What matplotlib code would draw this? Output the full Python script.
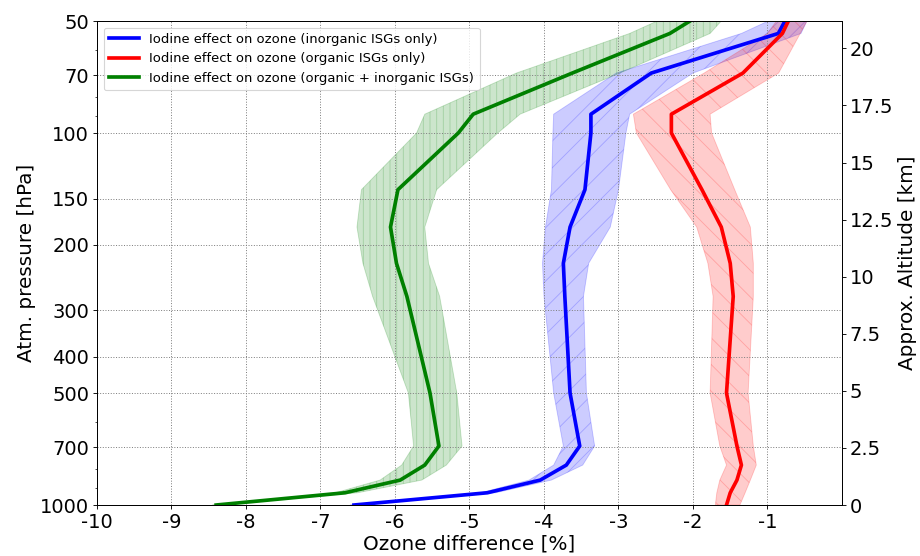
import matplotlib
matplotlib.use("Agg")
import matplotlib.pyplot as plt
from matplotlib.ticker import LogLocator, NullFormatter, FixedLocator

# Pressure levels [hPa]
pressure = [50, 54, 69, 89, 100, 142, 179, 224, 275, 500, 694, 781, 857, 927, 1000]

# Inorganic ISGs only (blue)
inorg_mean = [-0.765, -0.855, -2.56, -3.37, -3.37, -3.45, -3.65, -3.74, -3.72, -3.65, -3.52, -3.70, -4.05, -4.76, -6.55]
inorg_low  = [-0.99, -1.35, -3.03, -3.87, -3.88, -3.90, -3.98, -4.02, -4.00, -3.87, -3.74, -3.87, -4.20, -4.85, -6.60]
inorg_high = [-0.47, -0.55, -2.00, -2.85, -2.90, -3.00, -3.11, -3.40, -3.47, -3.43, -3.32, -3.48, -3.90, -4.65, -6.50]

# Organic ISGs only (red)
org_mean = [-0.72, -0.80, -1.33, -2.29, -2.29, -1.88, -1.62, -1.50, -1.46, -1.55, -1.41, -1.35, -1.41, -1.50, -1.55]
org_low  = [-0.88, -1.00, -1.85, -2.80, -2.76, -2.30, -1.95, -1.80, -1.73, -1.77, -1.64, -1.55, -1.64, -1.68, -1.70]
org_high = [-0.47, -0.56, -0.85, -1.77, -1.75, -1.44, -1.23, -1.19, -1.19, -1.26, -1.19, -1.15, -1.23, -1.30, -1.37]

# Organic + inorganic ISGs (green)
both_mean = [-2.04, -2.31, -3.62, -4.95, -5.15, -5.96, -6.06, -5.98, -5.84, -5.53, -5.41, -5.60, -5.93, -6.67, -8.40]
both_low  = [-2.48, -2.85, -4.37, -5.60, -5.71, -6.45, -6.51, -6.43, -6.30, -5.82, -5.75, -5.91, -6.20, -6.80, -8.45]
both_high = [-1.62, -1.77, -2.98, -4.32, -4.62, -5.44, -5.60, -5.55, -5.40, -5.17, -5.10, -5.31, -5.64, -6.50, -8.35]

labels = ["Iodine effect on ozone (inorganic ISGs only)",
          "Iodine effect on ozone (organic ISGs only)",
          "Iodine effect on ozone (organic + inorganic ISGs)"]

p_ticks = [50, 70, 100, 150, 200, 300, 400, 500, 700, 1000]
x_ticks = [-10, -9, -8, -7, -6, -5, -4, -3, -2, -1]
alt_ticks = [0, 2.5, 5, 7.5, 10, 12.5, 15, 17.5, 20]
alt_labels = ["0", "2.5", "5", "7.5", "10", "12.5", "15", "17.5", "20"]

plt.rcParams['hatch.linewidth'] = 0.8
fig = plt.figure(figsize=(11.5, 6.95), dpi=80)
ax = fig.add_axes([0.1054, 0.0917, 0.8098, 0.8705])

ax.fill_betweenx(pressure, inorg_low, inorg_high, facecolor='blue', edgecolor='blue',
                 alpha=0.2, hatch='/', linewidth=0.8)
ax.fill_betweenx(pressure, org_low, org_high, facecolor='red', edgecolor='red',
                 alpha=0.2, hatch='\\', linewidth=0.8)
ax.fill_betweenx(pressure, both_low, both_high, facecolor='green', edgecolor='green',
                 alpha=0.2, hatch='||', linewidth=0.8)

ax.plot(inorg_mean, pressure, color='blue', lw=3.3, label=labels[0])
ax.plot(org_mean, pressure, color='red', lw=3.3, label=labels[1])
ax.plot(both_mean, pressure, color='green', lw=3.3, label=labels[2])

ax.set_yscale('log')
ax.set_ylim(1000, 50)
ax.set_xlim(-10, 0)
ax.yaxis.set_major_locator(FixedLocator(p_ticks))
ax.set_yticklabels([str(t) for t in p_ticks])
ax.yaxis.set_minor_locator(LogLocator(base=10, subs=range(1, 10)))
ax.yaxis.set_minor_formatter(NullFormatter())
ax.set_xticks(x_ticks)
ax.set_xticklabels([str(t) for t in x_ticks])
ax.tick_params(axis='both', which='major', labelsize=17.5)
ax.grid(True, which='major', linestyle=':', color='gray', linewidth=0.9)

ax.set_xlabel("Ozone difference [%]", fontsize=18, labelpad=2)
ax.set_ylabel("Atm. pressure [hPa]", fontsize=18)

leg = ax.legend(loc='upper left', fontsize=11.8, handlelength=2.3)

ax2 = ax.twinx()
ax2.set_ylim(0, 21.2)
ax2.set_yticks(alt_ticks)
ax2.set_yticklabels(alt_labels)
ax2.tick_params(axis='y', labelsize=17.5)
ax2.set_ylabel("Approx. Altitude [km]", fontsize=18)

fig.savefig("out.png", dpi=80)
